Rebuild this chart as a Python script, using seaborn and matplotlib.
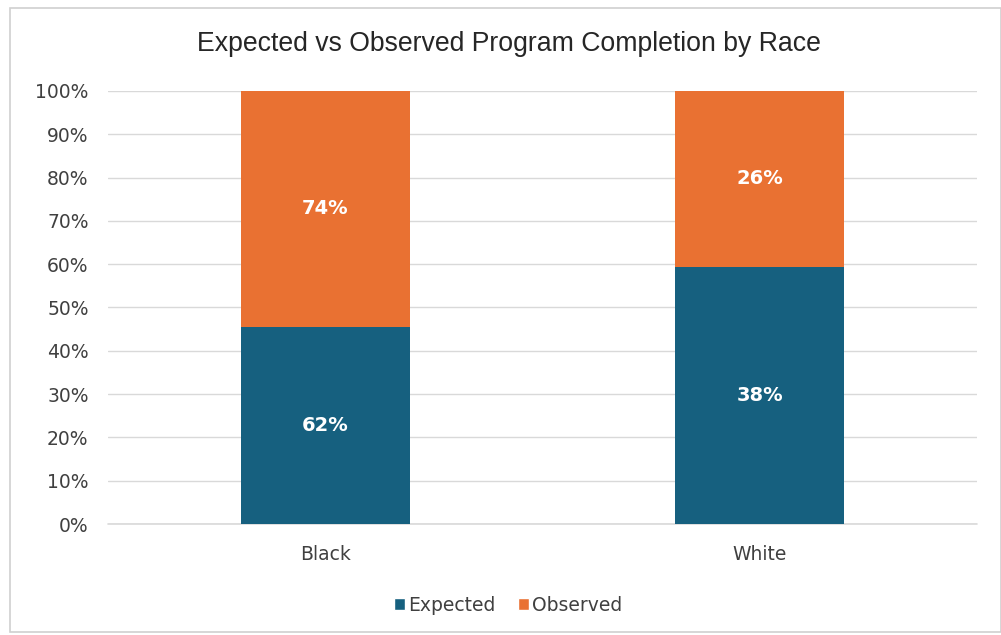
import matplotlib
matplotlib.use("Agg")
import matplotlib.pyplot as plt
import seaborn as sns
import pandas as pd
from matplotlib.patches import Rectangle, Patch

categories = ["Black", "White"]
expected = [62, 38]
observed = [74, 26]
yticks = [0, 10, 20, 30, 40, 50, 60, 70, 80, 90, 100]
title = "Expected vs Observed Program Completion by Race"

BLUE = "#16607F"
ORANGE = "#E97132"

sns.set_theme(style="white")
plt.rcParams['font.family'] = ['DejaVu Sans']

exp_share = [100 * e / (e + o) for e, o in zip(expected, observed)]
df = pd.DataFrame({"Race": categories, "exp_share": exp_share,
                   "total": [100, 100], "Expected": expected, "Observed": observed})

fig = plt.figure(figsize=(10.01, 6.35), dpi=100)
ax = fig.add_axes([0.1079, 0.1748, 0.868, 0.682])

sns.barplot(data=df, x="Race", y="total", color=ORANGE, width=0.39,
            saturation=1, linewidth=0, ax=ax, zorder=3)
sns.barplot(data=df, x="Race", y="exp_share", color=BLUE, width=0.39,
            saturation=1, linewidth=0, ax=ax, zorder=4)

for i, row in df.iterrows():
    ax.text(i, row["exp_share"] / 2, f"{row['Expected']}%", ha="center", va="center",
            color="white", fontsize=14, fontweight="bold", zorder=5)
    ax.text(i, row["exp_share"] + (100 - row["exp_share"]) / 2, f"{row['Observed']}%",
            ha="center", va="center", color="white", fontsize=14, fontweight="bold", zorder=5)

ax.set_ylim(0, 100)
ax.set_xlim(-0.5, 1.5)
ax.set_yticks(yticks)
ax.set_yticklabels([f"{t}%" for t in yticks], fontsize=13.5, color="#404040")
ax.tick_params(axis="x", labelsize=13.5, labelcolor="#404040", pad=15, length=0)
ax.tick_params(axis="y", length=0, pad=14)
ax.set_xlabel("")
ax.set_ylabel("")
ax.yaxis.grid(True, color="#D9D9D9", linewidth=1, zorder=0)
ax.axhline(0, color="#D9D9D9", linewidth=1.2, zorder=0, clip_on=False)
ax.set_axisbelow(True)
for s in ax.spines.values():
    s.set_visible(False)

fig.text(0.508, 0.931, title, ha="center", va="center", fontsize=19.2,
         color="#262626", family=["Liberation Sans", "DejaVu Sans"])

handles = [Patch(facecolor=BLUE, label="Expected"), Patch(facecolor=ORANGE, label="Observed")]
fig.legend(handles=handles, loc="center", bbox_to_anchor=(0.508, 0.047), ncol=2,
           frameon=False, fontsize=13.5, handlelength=0.55, handleheight=0.6,
           handletextpad=0.2, columnspacing=1.2, labelcolor="#404040")

fig.patches.append(Rectangle((10 / 1001, 3 / 635), 1 - 10 / 1001, 1 - 11 / 635,
                             transform=fig.transFigure, fill=False,
                             edgecolor="#D0D0D0", linewidth=1.2))

fig.savefig("out.png", dpi=100)
